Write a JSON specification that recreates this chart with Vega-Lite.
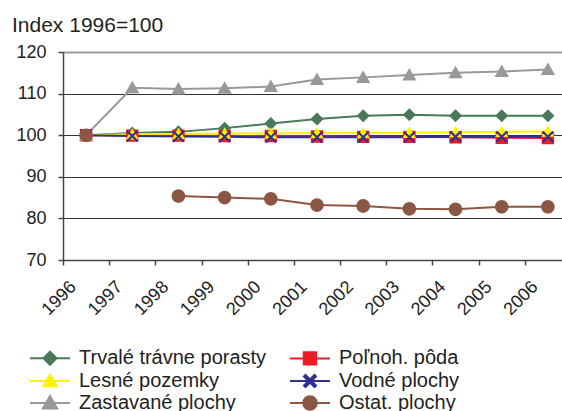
{
  "$schema": "https://vega.github.io/schema/vega-lite/v6.json",
  "autosize": "none",
  "padding": {"left": 63, "top": 52, "right": 0, "bottom": 151},
  "width": 499,
  "height": 208,
  "background": "white",
  "title": {"text": "Index 1996=100", "anchor": "start", "frame": "group", "dx": -51, "offset": -10, "baseline": "alphabetic", "font": "Liberation Sans", "fontSize": 21, "fontWeight": "normal", "color": "#222222"},
  "config": {
    "view": {"stroke": null},
    "legend": {
      "orient": "none", "direction": "horizontal", "legendX": -24, "legendY": 295, "columns": 2, "columnPadding": 19, "rowPadding": 1, "padding": 0,
      "labelFont": "Liberation Sans", "labelFontSize": 20, "labelColor": "#222222", "labelOffset": 18, "labelLimit": 400,
      "symbolSize": 400, "symbolStrokeWidth": 2, "title": null
    }
  },
  "data": {"values": [
    {"year": "1996", "series": "Trvalé trávne porasty", "value": 100},
    {"year": "1997", "series": "Trvalé trávne porasty", "value": 100.5},
    {"year": "1998", "series": "Trvalé trávne porasty", "value": 100.8},
    {"year": "1999", "series": "Trvalé trávne porasty", "value": 101.7},
    {"year": "2000", "series": "Trvalé trávne porasty", "value": 102.8},
    {"year": "2001", "series": "Trvalé trávne porasty", "value": 103.9},
    {"year": "2002", "series": "Trvalé trávne porasty", "value": 104.7},
    {"year": "2003", "series": "Trvalé trávne porasty", "value": 104.9},
    {"year": "2004", "series": "Trvalé trávne porasty", "value": 104.7},
    {"year": "2005", "series": "Trvalé trávne porasty", "value": 104.7},
    {"year": "2006", "series": "Trvalé trávne porasty", "value": 104.7},
    {"year": "1996", "series": "Poľnoh. pôda", "value": 100},
    {"year": "1997", "series": "Poľnoh. pôda", "value": 99.9},
    {"year": "1998", "series": "Poľnoh. pôda", "value": 99.9},
    {"year": "1999", "series": "Poľnoh. pôda", "value": 99.8},
    {"year": "2000", "series": "Poľnoh. pôda", "value": 99.8},
    {"year": "2001", "series": "Poľnoh. pôda", "value": 99.7},
    {"year": "2002", "series": "Poľnoh. pôda", "value": 99.6},
    {"year": "2003", "series": "Poľnoh. pôda", "value": 99.6},
    {"year": "2004", "series": "Poľnoh. pôda", "value": 99.5},
    {"year": "2005", "series": "Poľnoh. pôda", "value": 99.4},
    {"year": "2006", "series": "Poľnoh. pôda", "value": 99.3},
    {"year": "1996", "series": "Lesné pozemky", "value": 100},
    {"year": "1997", "series": "Lesné pozemky", "value": 100.2},
    {"year": "1998", "series": "Lesné pozemky", "value": 100.3},
    {"year": "1999", "series": "Lesné pozemky", "value": 100.4},
    {"year": "2000", "series": "Lesné pozemky", "value": 100.4},
    {"year": "2001", "series": "Lesné pozemky", "value": 100.5},
    {"year": "2002", "series": "Lesné pozemky", "value": 100.5},
    {"year": "2003", "series": "Lesné pozemky", "value": 100.6},
    {"year": "2004", "series": "Lesné pozemky", "value": 100.7},
    {"year": "2005", "series": "Lesné pozemky", "value": 100.8},
    {"year": "2006", "series": "Lesné pozemky", "value": 100.9},
    {"year": "1996", "series": "Vodné plochy", "value": 100},
    {"year": "1997", "series": "Vodné plochy", "value": 99.8},
    {"year": "1998", "series": "Vodné plochy", "value": 99.7},
    {"year": "1999", "series": "Vodné plochy", "value": 99.6},
    {"year": "2000", "series": "Vodné plochy", "value": 99.5},
    {"year": "2001", "series": "Vodné plochy", "value": 99.5},
    {"year": "2002", "series": "Vodné plochy", "value": 99.5},
    {"year": "2003", "series": "Vodné plochy", "value": 99.5},
    {"year": "2004", "series": "Vodné plochy", "value": 99.6},
    {"year": "2005", "series": "Vodné plochy", "value": 99.6},
    {"year": "2006", "series": "Vodné plochy", "value": 99.6},
    {"year": "1996", "series": "Zastavané plochy", "value": 100},
    {"year": "1997", "series": "Zastavané plochy", "value": 111.4},
    {"year": "1998", "series": "Zastavané plochy", "value": 111.1},
    {"year": "1999", "series": "Zastavané plochy", "value": 111.3},
    {"year": "2000", "series": "Zastavané plochy", "value": 111.7},
    {"year": "2001", "series": "Zastavané plochy", "value": 113.4},
    {"year": "2002", "series": "Zastavané plochy", "value": 113.9},
    {"year": "2003", "series": "Zastavané plochy", "value": 114.5},
    {"year": "2004", "series": "Zastavané plochy", "value": 115.0},
    {"year": "2005", "series": "Zastavané plochy", "value": 115.3},
    {"year": "2006", "series": "Zastavané plochy", "value": 115.8},
    {"year": "1996", "series": "Ostat. plochy", "value": 100},
    {"year": "1997", "series": "Ostat. plochy", "value": null},
    {"year": "1998", "series": "Ostat. plochy", "value": 85.4},
    {"year": "1999", "series": "Ostat. plochy", "value": 85.0},
    {"year": "2000", "series": "Ostat. plochy", "value": 84.7},
    {"year": "2001", "series": "Ostat. plochy", "value": 83.2},
    {"year": "2002", "series": "Ostat. plochy", "value": 83.0},
    {"year": "2003", "series": "Ostat. plochy", "value": 82.3},
    {"year": "2004", "series": "Ostat. plochy", "value": 82.2},
    {"year": "2005", "series": "Ostat. plochy", "value": 82.8},
    {"year": "2006", "series": "Ostat. plochy", "value": 82.8}
  ]},
  "encoding": {
    "x": {
      "field": "year", "type": "ordinal", "bandPosition": 0.5,
      "scale": {"type": "band", "paddingInner": 0, "paddingOuter": 0, "range": [0, 508]},
      "axis": {"title": null, "tickBand": "extent", "labelAngle": -45, "labelAlign": "right", "labelBaseline": "middle", "labelOffset": -13, "labelPadding": 19,
        "labelFont": "Liberation Sans", "labelFontSize": 18, "labelColor": "#222222", "domainColor": "#444444", "domainWidth": 1.5, "tickColor": "#444444", "tickSize": 5, "tickWidth": 1.5, "grid": false, "labelOverlap": false}
    },
    "y": {
      "field": "value", "type": "quantitative",
      "scale": {"domain": [70, 120], "nice": false, "zero": false},
      "axis": {"title": null, "values": [70, 80, 90, 100, 110, 120], "labelFont": "Liberation Sans", "labelFontSize": 18, "labelColor": "#222222", "labelPadding": 12,
        "domainColor": "#444444", "domainWidth": 1.5, "tickColor": "#444444", "tickSize": 5, "tickWidth": 1.5,
        "grid": true, "gridColor": {"condition": {"test": "datum.value == 120", "value": "#9a9a9a"}, "value": "#333333"}, "gridWidth": {"condition": {"test": "datum.value == 120", "value": 2}, "value": 1}}
    },
    "color": {
      "field": "series", "type": "nominal",
      "scale": {"domain": ["Trvalé trávne porasty", "Poľnoh. pôda", "Lesné pozemky", "Vodné plochy", "Zastavané plochy", "Ostat. plochy"],
        "range": ["#477a58", "#ed1c24", "#fff200", "#2e3192", "#999999", "#8b5742"]}
    }
  },
  "layer": [
    {
      "mark": {"type": "line", "strokeWidth": 2, "invalid": "break-paths-filter-domains"},
      "encoding": {"detail": {"field": "series"}}
    },
    {
      "mark": {"type": "point", "filled": true, "opacity": 1, "size": 400},
      "encoding": {
        "shape": {
          "field": "series", "type": "nominal",
          "scale": {"domain": ["Trvalé trávne porasty", "Poľnoh. pôda", "Lesné pozemky", "Vodné plochy", "Zastavané plochy", "Ostat. plochy"],
            "range": [
              "M-2,0H2M0,-0.65L0.65,0L0,0.65L-0.65,0Z",
              "M-2,0H2M-0.62,-0.62H0.62V0.62H-0.62Z",
              "M-2,0H2M0,-0.62L0.66,0.52H-0.66Z",
              "M-2,0H2M-0.6,-0.45L-0.45,-0.6L0,-0.15L0.45,-0.6L0.6,-0.45L0.15,0L0.6,0.45L0.45,0.6L0,0.15L-0.45,0.6L-0.6,0.45L-0.15,0Z",
              "M-2,0H2M0,-0.7L0.72,0.55H-0.72Z",
              "M-2,0H2M0.68,0A0.68,0.68,0,1,1,-0.68,0A0.68,0.68,0,1,1,0.68,0Z"
            ]}
        },
        "stroke": {
          "field": "series", "type": "nominal",
          "scale": {"domain": ["Trvalé trávne porasty", "Poľnoh. pôda", "Lesné pozemky", "Vodné plochy", "Zastavané plochy", "Ostat. plochy"],
            "range": ["#477a58", "#ed1c24", "#fff200", "#2e3192", "#999999", "#8b5742"]}
        },
        "strokeWidth": {"value": 0}
      }
    }
  ]
}
